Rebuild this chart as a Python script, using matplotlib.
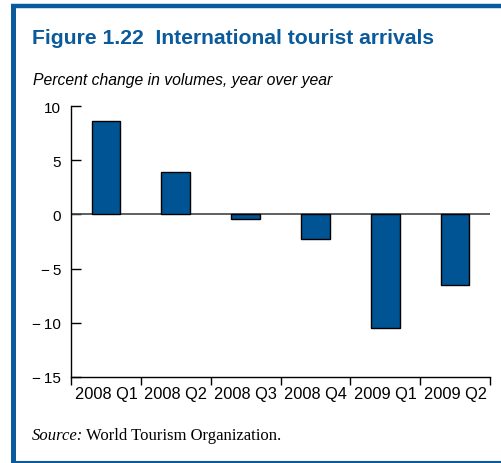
import matplotlib
matplotlib.use("Agg")
import matplotlib.pyplot as plt
from matplotlib.lines import Line2D

categories = ["2008 Q1", "2008 Q2", "2008 Q3", "2008 Q4", "2009 Q1", "2009 Q2"]
values = [8.6, 3.9, -0.45, -2.3, -10.5, -6.5]
yticks = [10, 5, 0, -5, -10, -15]
ytick_labels = ["10", "5", "0", "\u2212\u20095", "\u2212\u200910", "\u2212\u200915"]

title = "Figure 1.22  International tourist arrivals"
subtitle = "Percent change in volumes, year over year"

W, H = 501, 464
fig = plt.figure(figsize=(W / 100, H / 100), dpi=100)
plt.rcParams['font.family'] = ['Liberation Sans', 'DejaVu Sans']

blue = "#0a5a9c"
barblue = "#005494"

# border
fig.add_artist(Line2D([12.5 / W, 12.5 / W], [1 - 5 / H, 1 - 463 / H], color=blue, lw=3.6,
                      transform=fig.transFigure, solid_capstyle='butt'))
fig.add_artist(Line2D([10.5 / W, 1], [1 - 7 / H, 1 - 7 / H], color=blue, lw=3.2,
                      transform=fig.transFigure, solid_capstyle='butt'))
fig.add_artist(Line2D([10.5 / W, 1], [1 - 462.5 / H, 1 - 462.5 / H], color=blue, lw=1.5,
                      transform=fig.transFigure, solid_capstyle='butt'))

fig.text(32 / W, 1 - 39 / H, title, color=blue, fontsize=15.2, fontweight='bold',
         va='center', ha='left')
fig.text(33 / W, 1 - 80 / H, subtitle, fontsize=11.3, style='italic', va='center', ha='left')

fig.text(32 / W, 1 - 436 / H, "Source:", fontsize=12, style='italic',
         family=['Liberation Serif'], va='center', ha='left')
fig.text(86 / W, 1 - 436 / H, "World Tourism Organization.", fontsize=12,
         family=['Liberation Serif'], va='center', ha='left')

left, right = 71 / W, 490 / W
top, bottom = 1 - 107.3 / H, 1 - 377.7 / H
ax = fig.add_axes([left, bottom, right - left, top - bottom])

x = list(range(len(categories)))
ax.bar(x, values, width=0.41, color=barblue, edgecolor='black', linewidth=1.0, zorder=3)
ax.axhline(0, color='#444444', lw=1.2, zorder=2)
ax.set_xlim(-0.5, len(categories) - 0.5)
ax.set_ylim(-15, 10)

for s in ['top', 'right']:
    ax.spines[s].set_visible(False)
ax.spines['left'].set_linewidth(1.0)
ax.spines['bottom'].set_linewidth(1.0)

ax.set_yticks(yticks)
ax.set_yticklabels(ytick_labels, fontsize=11)
ax.tick_params(axis='y', direction='in', length=7, width=1, pad=7)

ax.set_xticks([i - 0.5 for i in range(len(categories) + 1)])
ax.set_xticklabels([])
ax.set_xticks(x, minor=True)
ax.set_xticklabels(categories, minor=True, fontsize=11.8)
ax.tick_params(axis='x', which='major', direction='out', length=6, width=1)
ax.tick_params(axis='x', which='minor', length=0, pad=7)

fig.savefig("out.png", dpi=100)
